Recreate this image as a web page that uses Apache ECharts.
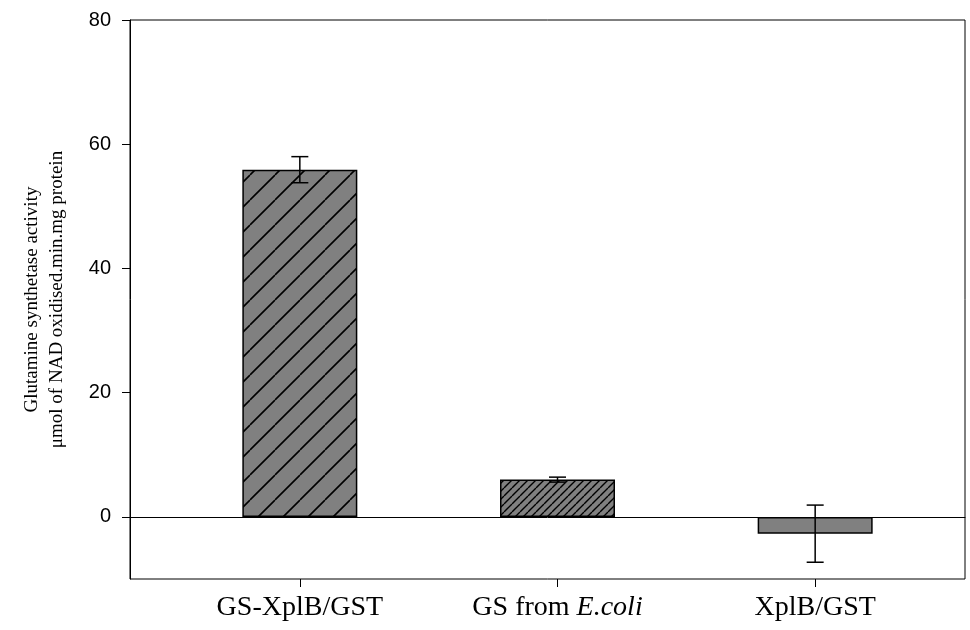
<!DOCTYPE html>
<html>
<head>
<meta charset="utf-8">
<script src="https://cdn.jsdelivr.net/npm/echarts@6/dist/echarts.min.js"></script>
<style>
  html, body { margin: 0; padding: 0; background: #fff; }
  #chart { width: 970px; height: 630px; }
</style>
</head>
<body>
<div id="chart"></div>
<script>
// Glutamine synthetase activity by preparation
const categories = ['GS-XplB/GST', 'GS from E.coli', 'XplB/GST'];
const activity = [55.9, 6.0, -2.7];
const errors = [2.1, 0.4, 4.6];
const yTicks = [0, 20, 40, 60, 80];
const yMin = -10;
const yMax = 80;

// Diagonal hatch fill: grey ground with "/" strokes repeating every `step` px
function hatch(step, lineW) {
  const c = document.createElement('canvas');
  c.width = step; c.height = step;
  const g = c.getContext('2d');
  g.fillStyle = '#808080';
  g.fillRect(0, 0, step, step);
  g.strokeStyle = '#000';
  g.lineWidth = lineW;
  g.beginPath();
  for (let k = -1; k <= 1; k++) {
    g.moveTo(k * step, step);
    g.lineTo(k * step + step, 0);
  }
  g.stroke();
  return { image: c, repeat: 'repeat' };
}

const fills = [hatch(25, 1.6), hatch(8, 1.4), '#808080'];

const chart = echarts.init(document.getElementById('chart'), null, { renderer: 'canvas' });

const serif = '"Liberation Serif", "Times New Roman", serif';
const sans = '"Liberation Sans", Arial, sans-serif';

chart.setOption({
  animation: false,
  backgroundColor: '#fff',
  grid: [
    // frame + value axis
    { left: 130, right: 5, top: 20, bottom: 51, show: true, borderColor: '#000', borderWidth: 1, backgroundColor: 'transparent' },
    // bar band layout
    { left: 171, right: 26, top: 20, bottom: 51 }
  ],
  xAxis: [
    {
      gridIndex: 0, type: 'value', min: 0, max: 1,
      axisLine: { show: true, onZero: true, lineStyle: { color: '#000', width: 1 } },
      axisTick: { show: false }, axisLabel: { show: false }, splitLine: { show: false }
    },
    {
      gridIndex: 1, type: 'category', data: categories,
      axisLine: { show: false, onZero: false },
      axisTick: { show: true, alignWithLabel: true, length: 8, lineStyle: { color: '#000', width: 1 } },
      axisLabel: {
        interval: 0,
        hideOverlap: false,
        margin: 15,
        color: '#000',
        fontFamily: serif,
        fontSize: 28,
        formatter: v => v.replace('E.coli', '{i|E.coli}'),
        rich: { i: { fontStyle: 'italic', fontFamily: serif, fontSize: 28, color: '#000' } }
      }
    }
  ],
  yAxis: [
    {
      gridIndex: 0, type: 'value', min: yMin, max: yMax,
      name: 'Glutamine synthetase activity\nμmol of NAD oxidised.min.mg protein',
      nameLocation: 'middle',
      nameGap: 60,
      nameTextStyle: { fontFamily: serif, fontSize: 19, color: '#000', lineHeight: 25 },
      axisLine: { show: true, lineStyle: { color: '#000', width: 1 } },
      axisTick: { show: true, length: 8, customValues: yTicks, lineStyle: { color: '#000', width: 1 } },
      axisLabel: { customValues: yTicks, margin: 19, color: '#000', fontFamily: sans, fontSize: 20 },
      splitLine: { show: false }
    },
    { gridIndex: 1, type: 'value', min: yMin, max: yMax, show: false }
  ],
  series: [
    {
      type: 'bar',
      xAxisIndex: 1, yAxisIndex: 1,
      barWidth: 115,
      data: activity.map((v, i) => ({
        value: v,
        itemStyle: { color: fills[i], borderColor: '#000', borderWidth: 1.5 }
      })),
      z: 2
    },
    {
      type: 'custom',
      xAxisIndex: 1, yAxisIndex: 1,
      data: activity.map((v, i) => [i, v - errors[i], v + errors[i]]),
      renderItem: (params, api) => {
        const lo = api.coord([api.value(0), api.value(1)]);
        const hi = api.coord([api.value(0), api.value(2)]);
        const half = 8.5;
        const st = { stroke: '#000', lineWidth: 1.5 };
        return {
          type: 'group',
          children: [
            { type: 'line', shape: { x1: hi[0], y1: hi[1], x2: lo[0], y2: lo[1] }, style: st },
            { type: 'line', shape: { x1: hi[0] - half, y1: hi[1], x2: hi[0] + half, y2: hi[1] }, style: st },
            { type: 'line', shape: { x1: lo[0] - half, y1: lo[1], x2: lo[0] + half, y2: lo[1] }, style: st }
          ]
        };
      },
      z: 3
    }
  ]
});
</script>
</body>
</html>
